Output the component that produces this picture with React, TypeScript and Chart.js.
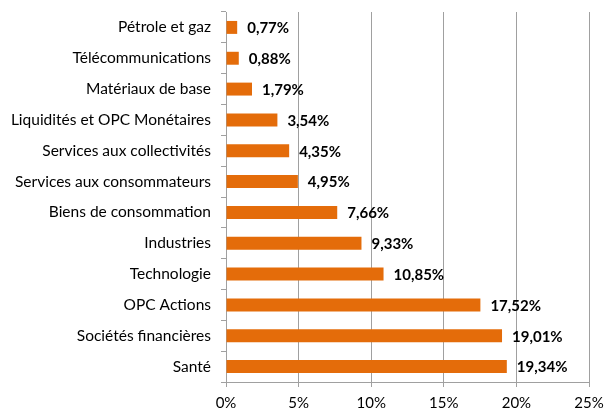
import React, { useEffect, useRef } from "react";
import { Chart, registerables } from "chart.js";

Chart.register(...registerables);

const categories = [
  "Pétrole et gaz",
  "Télécommunications",
  "Matériaux de base",
  "Liquidités et OPC Monétaires",
  "Services aux collectivités",
  "Services aux consommateurs",
  "Biens de consommation",
  "Industries",
  "Technologie",
  "OPC Actions",
  "Sociétés financières",
  "Santé",
];
const values = [0.77, 0.88, 1.79, 3.54, 4.35, 4.95, 7.66, 9.33, 10.85, 17.52, 19.01, 19.34];
const xTicks = [0, 5, 10, 15, 20, 25];

const FONT = "Lato, 'Open Sans', sans-serif";

const fmt = (v: number) => v.toFixed(2).replace(".", ",") + "%";

const labelPlugin = {
  id: "barLabels",
  afterDatasetsDraw(chart: any) {
    const ctx = chart.ctx;
    const meta = chart.getDatasetMeta(0);
    ctx.save();
    ctx.font = `bold 15px ${FONT}`;
    ctx.fillStyle = "#000";
    ctx.textAlign = "left";
    ctx.textBaseline = "middle";
    meta.data.forEach((bar: any, i: number) => {
      ctx.fillText(fmt(values[i]), bar.x + 10, bar.y + 1);
    });
    ctx.restore();
  },
};

export default function App() {
  const ref = useRef<HTMLCanvasElement>(null);
  useEffect(() => {
    if (!ref.current) return;
    const chart = new Chart(ref.current, {
      type: "bar",
      data: {
        labels: categories,
        datasets: [
          {
            data: values,
            backgroundColor: "#E46C0A",
            borderWidth: 0,
            barPercentage: 0.42,
            categoryPercentage: 1,
          },
        ],
      },
      options: {
        indexAxis: "y",
        animation: false,
        responsive: false,
        maintainAspectRatio: false,
        layout: { padding: { top: 12, right: 15, left: 0, bottom: 0 } },
        plugins: { legend: { display: false }, tooltip: { enabled: false } },
        scales: {
          x: {
            min: 0,
            max: 25,
            afterBuildTicks: (s: any) => {
              s.ticks = xTicks.map((v) => ({ value: v }));
            },
            afterFit: (s: any) => {
              s.height = 30;
              s.paddingLeft = 0;
              s.paddingRight = 0;
            },
            ticks: {
              color: "#000",
              font: { family: FONT, size: 15 },
              padding: 7,
              maxRotation: 0,
              callback: (v: any) => v + "%",
            },
            grid: {
              color: "#A0A0A0",
              lineWidth: 1,
              tickLength: 5,
              drawTicks: true,
            },
            border: { display: true, color: "#A0A0A0" },
          },
          y: {
            afterFit: (s: any) => {
              s.width = 226;
              s.paddingTop = 0;
              s.paddingBottom = 0;
            },
            ticks: {
              color: "#000",
              font: { family: FONT, size: 15.5 },
              padding: 10,
            },
            grid: {
              display: true,
              drawOnChartArea: false,
              offset: true,
              color: "#A0A0A0",
              tickLength: 5,
            },
            border: { display: true, color: "#A0A0A0" },
          },
        },
      },
      plugins: [labelPlugin],
    });
    return () => chart.destroy();
  }, []);
  return (
    <div style={{ position: "absolute", left: 0, top: 0, width: 604, height: 412, background: "#fff" }}>
      <canvas ref={ref} width={604} height={412} style={{ display: "block" }} />
    </div>
  );
}
